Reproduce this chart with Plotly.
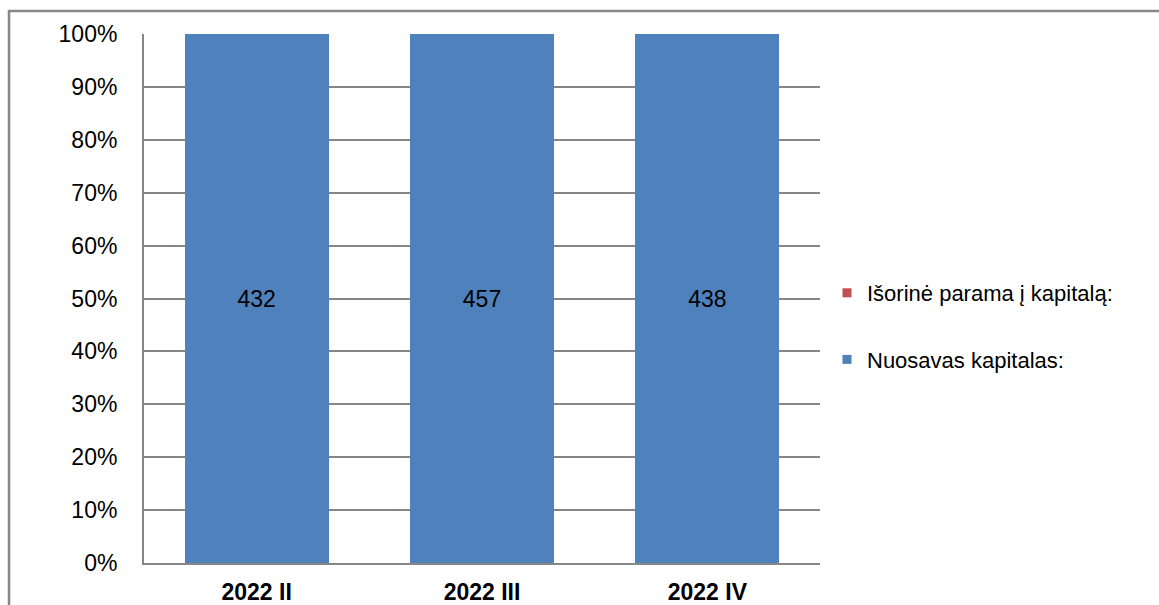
import plotly.graph_objects as go

categories = ["2022 II", "2022 III", "2022 IV"]
nuosavas = [432, 457, 438]
isorine = [0, 0, 0]
y_ticks = [0, 10, 20, 30, 40, 50, 60, 70, 80, 90, 100]
y_tick_labels = [f"{v}%" for v in y_ticks]

BLUE = "#4F81BD"
RED = "#C0504D"
GRID = "#868686"
FONT = "Liberation Sans, Arial, sans-serif"

fig = go.Figure()
fig.add_trace(go.Bar(
    x=categories, y=nuosavas, name="Nuosavas kapitalas:",
    marker=dict(color=BLUE, line=dict(width=0)),
    text=[str(v) for v in nuosavas], textposition="inside",
    insidetextanchor="middle", textangle=0,
    textfont=dict(family=FONT, size=23, color="black"),
    showlegend=False, legendgroup="b", hoverinfo="skip",
))
fig.add_trace(go.Bar(
    x=categories, y=isorine, name="Išorinė parama į kapitalą:",
    marker=dict(color=RED, line=dict(width=0)),
    showlegend=False, legendgroup="r", hoverinfo="skip",
))
# legend entries (small square symbols), red listed first as in the reference
fig.add_trace(go.Scatter(
    x=[None], y=[None], mode="markers", name="Išorinė parama į kapitalą:",
    marker=dict(symbol="square", size=9, color=RED), legendgroup="r",
))
fig.add_trace(go.Scatter(
    x=[None], y=[None], mode="markers", name="Nuosavas kapitalas:",
    marker=dict(symbol="square", size=9, color=BLUE), legendgroup="b",
))

L, R, T, B = 144, 339, 34, 42
W, H = 1159, 605
pw, ph = W - L - R, H - T - B

def px_x(x):
    return (x - L) / pw

def px_y(y):
    return 1 - (y - T) / ph

fig.update_layout(
    width=W, height=H,
    margin=dict(l=L, r=R, t=T, b=B, pad=0, autoexpand=False),
    paper_bgcolor="white", plot_bgcolor="white",
    barmode="stack", barnorm="percent", bargap=0.36,
    font=dict(family=FONT, color="black"),
    legend=dict(
        x=px_x(827), xanchor="left", y=px_y(272), yanchor="top",
        traceorder="grouped", tracegroupgap=35,
        font=dict(family=FONT, size=22, color="black"),
        bgcolor="rgba(0,0,0,0)", itemwidth=30,
    ),
    xaxis=dict(
        showgrid=False, showline=True, linecolor=GRID, linewidth=2,
        ticks="", tickfont=dict(family=FONT, size=23, color="black", weight="bold"),
        ticklabelstandoff=7, fixedrange=True, automargin=False,
    ),
    yaxis=dict(
        range=[0, 100], tickvals=y_ticks, ticktext=y_tick_labels,
        showgrid=True, gridcolor=GRID, gridwidth=2,
        showline=True, linecolor=GRID, linewidth=2, zeroline=False,
        ticks="", tickfont=dict(family=FONT, size=23, color="black"),
        ticklabelstandoff=20, fixedrange=True, automargin=False,
    ),
    shapes=[dict(
        type="rect", xref="paper", yref="paper",
        x0=px_x(9), x1=px_x(1175), y0=px_y(625), y1=px_y(11),
        line=dict(color="#888888", width=2.5), fillcolor="rgba(0,0,0,0)",
        layer="below",
    )],
)

fig.write_html("out.html", config={"displayModeBar": False})
